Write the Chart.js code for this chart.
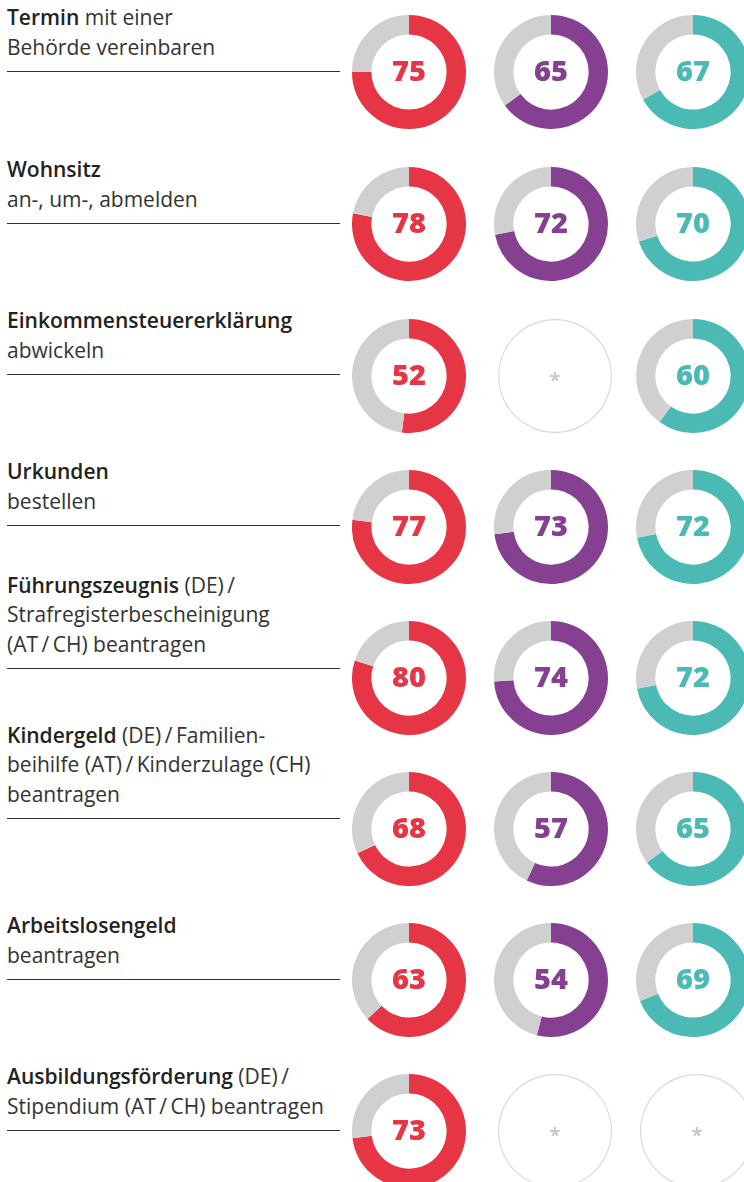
<!DOCTYPE html>
<html>
<head>
<meta charset="utf-8">
<script src="https://cdn.jsdelivr.net/npm/chart.js@4"></script>
<style>
  html, body { margin: 0; padding: 0; background: #fff; }
  body { width: 744px; height: 1182px; overflow: hidden; position: relative; font-family: "Open Sans", "Noto Sans", sans-serif; }
  .label { position: absolute; left: 7px; width: 345px; font-size: 21px; line-height: 29.5px; color: #333; }
  .label b { font-weight: 600; color: #222; }
  .rule { position: absolute; left: 7px; width: 333px; height: 1px; background: #333; }
  canvas { position: absolute; }
</style>
</head>
<body>
<script>
// rows (bold part marked with <b>)
const categories = [
  ["<b>Termin</b> mit einer", "Behörde vereinbaren"],
  ["<b>Wohnsitz</b>", "an-, um-, abmelden"],
  ["<b>Einkommensteuererklärung</b>", "abwickeln"],
  ["<b>Urkunden</b>", "bestellen"],
  ["<b>Führungszeugnis</b> (DE)\u2009/", "Strafregisterbescheinigung", "(AT\u2009/\u2009CH) beantragen"],
  ["<b>Kindergeld</b> (DE)\u2009/\u2009Familien-", "beihilfe (AT)\u2009/\u2009Kinderzulage (CH)", "beantragen"],
  ["<b>Arbeitslosengeld</b>", "beantragen"],
  ["<b>Ausbildungsförderung</b> (DE)\u2009/", "Stipendium (AT\u2009/\u2009CH) beantragen"]
];

// percent values per column, null = no data (*)
const seriesRed    = [75, 78, 52, 77, 80, 68, 63, 73];
const seriesPurple = [65, 72, null, 73, 74, 57, 54, null];
const seriesTeal   = [67, 70, 60, 72, 72, 65, 69, null];

const series = [seriesRed, seriesPurple, seriesTeal];
const colors = ["#e63646", "#854091", "#4bbab5"];
const restColor = "#d0d0d0";

// layout
const colX = [409, 551, 693];
const rowY = [72, 224, 376, 527, 678, 829, 980, 1131];
const ruleY = [71, 223, 374, 525, 668, 818, 979, 1130];
const R = 57;

const centerText = {
  id: "centerText",
  afterDraw(chart) {
    const o = chart.options.plugins.centerText;
    const ctx = chart.ctx;
    const x = chart.width / 2, y = chart.height / 2;
    ctx.save();
    ctx.textAlign = "center";
    ctx.textBaseline = "middle";
    if (o.value === null) {
      ctx.fillStyle = "#c8c8c8";
      ctx.font = "bold 20px 'Open Sans'";
      ctx.fillText("*", x, y + 5);
    } else {
      ctx.fillStyle = o.color;
      ctx.font = "800 29px 'Open Sans'";
      ctx.fillText(String(o.value), x, y + 1);
    }
    ctx.restore();
  }
};

categories.forEach((lines, i) => {
  const lab = document.createElement("div");
  lab.className = "label";
  lab.innerHTML = lines.join("<br>");
  const h = lines.length * 29.5;
  lab.style.top = (ruleY[i] - 9 - h) + "px";
  document.body.appendChild(lab);

  const rule = document.createElement("div");
  rule.className = "rule";
  rule.style.top = ruleY[i] + "px";
  document.body.appendChild(rule);

  series.forEach((vals, j) => {
    const v = vals[i];
    const cv = document.createElement("canvas");
    const off = v === null ? 4 : 0;
    cv.width = 2 * R; cv.height = 2 * R;
    cv.style.left = (colX[j] + off - R) + "px";
    cv.style.top = (rowY[i] - R) + "px";
    document.body.appendChild(cv);

    const ds = v === null
      ? { data: [100], backgroundColor: ["#dadada"], borderWidth: 0 }
      : { data: [v, 100 - v], backgroundColor: [colors[j], restColor], borderWidth: 0 };

    new Chart(cv, {
      type: "doughnut",
      data: { labels: v === null ? ["k.A."] : ["Anteil", "Rest"], datasets: [ds] },
      options: {
        responsive: false,
        animation: false,
        events: [],
        cutout: v === null ? R - 1.2 : "66%",
        layout: { padding: 0 },
        plugins: {
          legend: { display: false },
          tooltip: { enabled: false },
          centerText: { value: v, color: colors[j] }
        }
      },
      plugins: [centerText]
    });
  });
});
</script>
</body>
</html>
